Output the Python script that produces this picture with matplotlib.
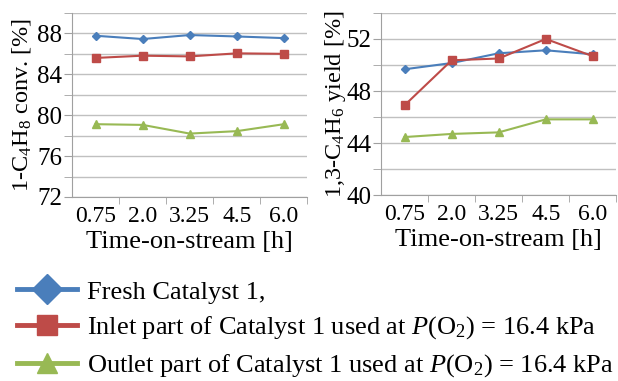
import matplotlib
matplotlib.use("Agg")
import matplotlib.pyplot as plt
from matplotlib.lines import Line2D
import numpy as np

plt.rcParams["font.family"] = "Liberation Serif"
plt.rcParams["mathtext.fontset"] = "custom"
plt.rcParams["mathtext.rm"] = "Liberation Serif"
plt.rcParams["mathtext.it"] = "Liberation Serif:italic"

times = ["0.75", "2.0", "3.25", "4.5", "6.0"]

conv_fresh = [87.77, 87.45, 87.84, 87.70, 87.54]
conv_inlet = [85.60, 85.82, 85.75, 86.05, 86.00]
conv_outlet = [79.12, 79.05, 78.20, 78.44, 79.12]

yield_fresh = [49.67, 50.15, 50.90, 51.13, 50.82]
yield_inlet = [46.90, 50.36, 50.50, 52.00, 50.67]
yield_outlet = [44.46, 44.70, 44.82, 45.82, 45.82]

labels = ["Fresh Catalyst 1,",
          "Inlet part of Catalyst 1 used at $P$(O$_2$) = 16.4 kPa",
          "Outlet part of Catalyst 1 used at $P$(O$_2$) = 16.4 kPa"]
colors = ["#4a7ebb", "#be4b48", "#98b954"]
markers = ["D", "s", "^"]
msizes = [4.5, 5.5, 6]

fig = plt.figure(figsize=(6.18, 3.81), dpi=100)
ax1 = fig.add_axes([0.1165, 0.483, 0.381, 0.483])
ax2 = fig.add_axes([0.6165, 0.488, 0.381, 0.478])

x = np.arange(len(times))


def style(ax, series, ylim, major, ylabel):
    for vals, c, m, ms in zip(series, colors, markers, msizes):
        ax.plot(x, vals, color=c, marker=m, markersize=ms, lw=1.5, zorder=3)
    ax.set_xlim(-0.5, len(times) - 0.5)
    ax.set_ylim(*ylim)
    ax.set_yticks(np.arange(ylim[0], ylim[1], major))
    ax.set_yticks(np.arange(ylim[0], ylim[1] + 0.1, major / 2), minor=True)
    ax.yaxis.grid(True, which="both", color="#c0c0c0", lw=1)
    ax.set_axisbelow(True)
    ax.set_xticks(x)
    ax.set_xticklabels(times)
    ax.set_xticks(np.arange(0.5, len(times), 1), minor=True)
    ax.tick_params(axis="x", which="major", length=0, labelsize=17, pad=6.5)
    ax.tick_params(axis="x", which="minor", length=5, color="#a0a0a0")
    ax.tick_params(axis="y", which="both", length=6, color="#a0a0a0",
                   labelsize=18, pad=1)
    for s in ("top", "right"):
        ax.spines[s].set_visible(False)
    for s in ("left", "bottom"):
        ax.spines[s].set_color("#a0a0a0")
    ax.set_xlabel("Time-on-stream [h]", fontsize=19, labelpad=3)
    ax.set_ylabel(ylabel, fontsize=17.5)


style(ax1, [conv_fresh, conv_inlet, conv_outlet], (72, 90), 4,
      "1-C$_4$H$_8$ conv. [%]")
style(ax2, [yield_fresh, yield_inlet, yield_outlet], (40, 54), 4,
      "1,3-C$_4$H$_6$ yield [%]")
ax1.yaxis.set_label_coords(-0.165, 0.5)
ax2.yaxis.set_label_coords(-0.14, 0.5)

handles = [Line2D([], [], color=c, marker=m, lw=3.5, markersize=15)
           for c, m in zip(colors, markers)]
fig.legend(handles, labels, loc="upper left", bbox_to_anchor=(0.028, 0.265),
           frameon=False, fontsize=19, handlelength=2.27, handletextpad=0.38,
           labelspacing=0.42, borderaxespad=0, borderpad=0)

fig.savefig("out.png", dpi=100)
